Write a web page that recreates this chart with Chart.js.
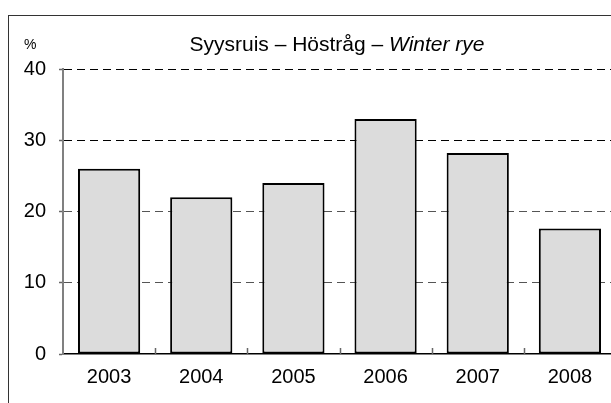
<!DOCTYPE html>
<html>
<head>
<meta charset="utf-8">
<script src="https://cdn.jsdelivr.net/npm/chart.js@4/dist/chart.umd.min.js"></script>
<style>
  html, body { margin: 0; padding: 0; width: 611px; height: 403px; overflow: hidden; background: #fff; }
  #frame { position: absolute; left: 8px; top: 15px; width: 700px; height: 500px; border: 1.5px solid #333; box-sizing: border-box; }
  #wrap { position: absolute; left: 0; top: 0; width: 630px; height: 403px; }
  #title { position: absolute; left: 0; top: 33px; width: 674px; text-align: center; font: 21px "Liberation Sans", Arial, sans-serif; line-height: 21px; color: #000; white-space: nowrap; }
  #unit { position: absolute; left: 24px; top: 37px; font: 14px "Liberation Sans", Arial, sans-serif; line-height: 14px; color: #000; }
</style>
</head>
<body>
<div id="frame"></div>
<div id="wrap"><canvas id="c"></canvas></div>
<div id="title">Syysruis – Höstråg – <i>Winter rye</i></div>
<div id="unit">%</div>
<script>
const categories = ['2003', '2004', '2005', '2006', '2007', '2008'];
const values = [26.0, 22.0, 24.0, 33.0, 28.2, 17.6];
const yMin = 0, yMax = 40, yStep = 10;

Chart.defaults.font.family = '"Liberation Sans", Arial, sans-serif';
Chart.defaults.color = '#000';

// small upward tick marks on the category axis, at category boundaries
const innerTicks = {
  id: 'innerTicks',
  afterDraw(chart) {
    const xs = chart.scales.x, ys = chart.scales.y;
    const ctx = chart.ctx;
    const y0 = ys.getPixelForValue(yMin);
    ctx.save();
    ctx.strokeStyle = '#666';
    ctx.lineWidth = 1.5;
    ctx.setLineDash([]);
    ctx.beginPath();
    for (let i = 1; i <= categories.length; i++) {
      const x = Math.round(xs.getPixelForValue(i - 0.5)) + 0.5;
      ctx.moveTo(x, y0);
      ctx.lineTo(x, y0 - 6);
    }
    ctx.stroke();
    ctx.restore();
  }
};

new Chart(document.getElementById('c'), {
  type: 'bar',
  data: {
    labels: categories,
    datasets: [{
      data: values,
      backgroundColor: '#dcdcdc',
      borderColor: '#000',
      borderWidth: 2,
      borderSkipped: false,
      categoryPercentage: 1.0,
      barPercentage: 0.675
    }]
  },
  plugins: [innerTicks],
  options: {
    responsive: true,
    maintainAspectRatio: false,
    animation: false,
    events: [],
    layout: { padding: { left: 0, right: 14, top: 69, bottom: 0 } },
    plugins: { legend: { display: false }, tooltip: { enabled: false }, title: { display: false } },
    scales: {
      x: {
        offset: true,
        grid: { display: true, offset: true, drawOnChartArea: false, drawTicks: false },
        border: { display: true, color: '#000', width: 1.5 },
        ticks: { font: { size: 20 }, color: '#000', padding: 11, maxRotation: 0 },
        afterFit: (s) => { s.height = 49; }
      },
      y: {
        min: yMin, max: yMax,
        grid: {
          color: (ctx) => (ctx.tick && ctx.tick.value === 0) ? 'rgba(0,0,0,0)' : (ctx.tick && ctx.tick.value >= 30 ? '#000' : '#555'),
          lineWidth: 1,
          drawTicks: true,
          tickLength: 4,
          tickColor: '#666',
          tickWidth: 1.5,
          tickBorderDash: []
        },
        border: { display: true, color: '#808080', width: 2, dash: [8, 5] },
        ticks: { stepSize: yStep, font: { size: 20 }, color: '#000', padding: 13 },
        afterFit: (s) => { s.width = 63; }
      }
    }
  }
});
</script>
</body>
</html>
